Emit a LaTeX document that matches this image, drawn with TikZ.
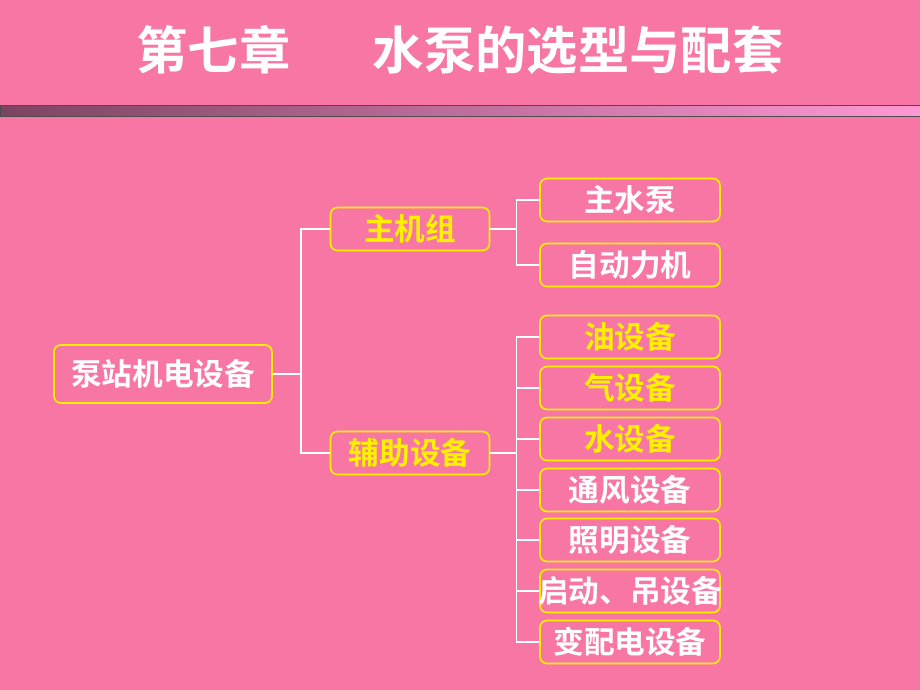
\documentclass[tikz,border=0pt]{standalone}
\usepackage{fontspec}
\newfontfamily\cjk{Noto Sans CJK SC}[BoldFont={Noto Sans CJK SC Bold}]
\usepackage{tikz}
\usetikzlibrary{positioning}
\usetikzlibrary{calc}
\definecolor{slidepink}{RGB}{247,118,164}
\definecolor{boxyellow}{RGB}{255,240,0}
\definecolor{bardark}{RGB}{125,68,98}
\definecolor{barlight}{RGB}{255,152,212}
\tikzset{box/.style={rectangle,draw=boxyellow,line width=1.2pt,rounded corners=5pt,minimum width=4.5cm,minimum height=1.075cm,inner sep=0pt,font=\cjk\bfseries\fontsize{21.8}{24}\selectfont,text=white}}
\tikzset{midbox/.style={box,minimum width=3.975cm}}
\tikzset{hot/.style={text=boxyellow}}
\tikzset{link/.style={white,line width=1.2pt}}

\begin{document}
\begin{tikzpicture}[x=0.025cm,y=-0.025cm]
  \fill[slidepink] (0,0) rectangle (920,690);
  \useasboundingbox (0,0) rectangle (920,690);
  % Title
  \node[font=\cjk\bfseries\fontsize{36.5}{40}\selectfont,text=white] (title) at (460,50) {第七章\hspace{1.6em}水泵的选型与配套};
  \shade[left color=bardark,right color=barlight] (0,105) rectangle (920,116);
  \draw[black!70,line width=0.6pt] (0,105) rectangle (920,116);

  % Boxes
  \node[box,minimum width=5.45cm,minimum height=1.45cm] (root) at (163,374) {泵站机电设备};
  \node[midbox,hot] (main) at (410,229) {主机组};
  \node[midbox,hot] (aux) at (410,453) {辅助设备};
  \node[box] (pump) at (630,200) {主水泵};
  \node[box] (motor) at (630,265) {自动力机};
  \node[box,hot] (oil) at (630,337) {油设备};
  \node[box,hot] (gas) at (630,388) {气设备};
  \node[box,hot] (water) at (630,439) {水设备};
  \node[box] (vent) at (630,490) {通风设备};
  \node[box] (light) at (630,540) {照明设备};
  \node[box] (hoist) at (630,591) {\makebox[4.5cm]{启动、吊设备}};
  \node[box] (power) at (630,642) {变配电设备};

  % Links
  \coordinate (j0) at ($(root.east)+(28,0)$);
  \draw[link] (root.east) -- (j0);
  \foreach \n in {main,aux}
    \draw[link] (\n.west) -| (j0);
  \coordinate (j1) at ($(main.east)+(26,0)$);
  \draw[link] (main.east) -- (j1);
  \foreach \n in {pump,motor}
    \draw[link] (\n.west) -| (j1);
  \coordinate (j2) at ($(aux.east)+(26,0)$);
  \draw[link] (aux.east) -- (j2);
  \foreach \n in {oil,gas,water,vent,light,hoist,power}
    \draw[link] (\n.west) -| (j2);
\end{tikzpicture}
\end{document}
